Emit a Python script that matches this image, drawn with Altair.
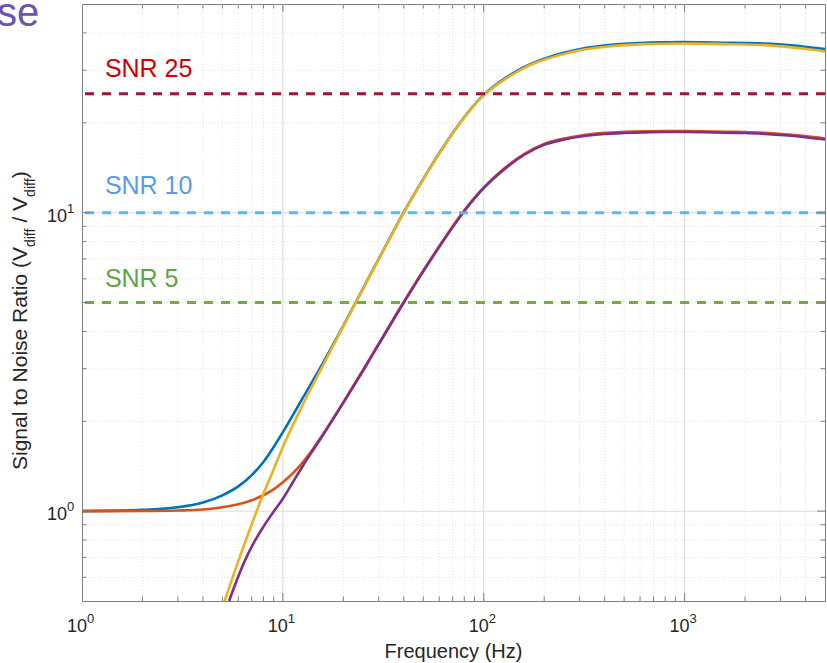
import altair as alt
import pandas as pd

W, H = 743, 597
FONT = "Liberation Sans"
TXT = "#262626"
BOX = "#7f7f7f"

# ---------------- data ----------------
blue_f = [1, 1.5, 2, 2.5, 3, 4, 5, 6, 7, 8, 9, 10, 12.59, 15.85, 19.95, 25.12, 31.62, 39.81, 50.12,
          63.10, 79.43, 100, 125.9, 158.5, 199.5, 251.2, 316.2, 398.1, 501.2, 631, 794, 1000, 1259,
          1585, 1995, 2512, 3162, 3981, 5000]
blue_v = [1.000, 1.004, 1.01, 1.018, 1.03, 1.068, 1.13, 1.21, 1.32, 1.46, 1.64, 1.84, 2.40, 3.14,
          4.17, 5.59, 7.48, 9.98, 13.0, 16.65, 20.76, 24.8, 28.0, 30.7, 32.8, 34.35, 35.55, 36.3,
          36.8, 37.1, 37.2, 37.25, 37.2, 37.1, 37.0, 36.85, 36.5, 35.95, 35.3]

orange_f = [1, 2, 3, 4, 5, 6, 7, 7.94, 8.91, 10, 11.22, 12.59, 14.13, 15.85, 19.95, 25.12, 31.62,
            39.81, 50.12, 63.10, 79.43, 100, 125.9, 158.5, 199.5, 251.2, 316.2, 398.1, 501.2, 631,
            794, 1000, 1259, 1585, 1995, 2512, 3162, 3981, 5000]
orange_v = [1.000, 1.001, 1.005, 1.013, 1.03, 1.055, 1.088, 1.128, 1.178, 1.25, 1.34, 1.46, 1.615,
            1.81, 2.31, 2.98, 3.86, 5.0, 6.41, 8.12, 10.12, 12.16, 14.03, 15.72, 17.0, 17.72, 18.21,
            18.5, 18.64, 18.73, 18.77, 18.77, 18.74, 18.67, 18.63, 18.5, 18.31, 18.04, 17.72]

yellow_f = [5.13, 6.0, 7.0, 8.0, 9.0, 10, 12.59, 15.85, 19.95, 25.12, 31.62, 39.81, 50.12, 63.10,
            79.43, 100, 125.9, 158.5, 199.5, 251.2, 316.2, 398.1, 501.2, 631, 794, 1000, 1259, 1585,
            1995, 2512, 3162, 3981, 5000]
yellow_v = [0.50, 0.68, 0.904, 1.143, 1.38, 1.64, 2.28, 3.08, 4.15, 5.57, 7.46, 9.95, 12.97, 16.6,
            20.7, 24.7, 27.8, 30.5, 32.5, 34.0, 35.2, 35.9, 36.4, 36.7, 36.8, 36.85, 36.8, 36.7,
            36.6, 36.4, 36.0, 35.4, 34.7]

purple_f = [5.40, 6.03, 6.61, 7.24, 7.94, 8.91, 10, 11.22, 12.59, 14.13, 15.85, 19.95, 25.12, 31.62,
            39.81, 50.12, 63.10, 79.43, 100, 125.9, 158.5, 199.5, 251.2, 316.2, 398.1, 501.2, 631,
            794, 1000, 1259, 1585, 1995, 2512, 3162, 3981, 5000]
purple_v = [0.50, 0.610, 0.704, 0.793, 0.880, 0.987, 1.10, 1.25, 1.42, 1.60, 1.80, 2.30, 2.96, 3.84,
            4.97, 6.37, 8.07, 10.05, 12.08, 13.93, 15.6, 16.87, 17.58, 18.07, 18.35, 18.49, 18.58,
            18.62, 18.62, 18.59, 18.52, 18.48, 18.35, 18.16, 17.89, 17.57]

snr_levels = [25, 10, 5]
snr_colors = ["#a2142f", "#4dbeee", "#77ac30"]
snr_labels = ["SNR 25", "SNR 10", "SNR 5"]
snr_label_colors = ["#d00000", "#5b9bee", "#5ea444"]
snr_label_f = [1.3, 1.3, 1.3]
snr_label_v = [28.5, 11.55, 5.64]

x_major = [10, 100, 1000]
x_minor = [2, 3, 4, 5, 6, 7, 8, 9, 20, 30, 40, 50, 60, 70, 80, 90,
           200, 300, 400, 500, 600, 700, 800, 900, 2000, 3000, 4000]
y_major = [1, 10]
y_minor = [0.6, 0.7, 0.8, 0.9, 2, 3, 4, 5, 6, 7, 8, 9, 20, 30, 40]

x_tick_vals = [1, 10, 100, 1000]
x_tick_exp = ["0", "1", "2", "3"]
y_tick_vals = [1, 10]
y_tick_exp = ["0", "1"]

# ---------------- scales ----------------
xs = alt.Scale(type="log", domain=[1, 5000])
ys = alt.Scale(type="log", domain=[0.5, 50])
X = lambda: alt.X("f:Q", scale=xs, axis=None)
Y = lambda: alt.Y("v:Q", scale=ys, axis=None)

one = pd.DataFrame({"a": [0]})
layers = []

# grid
layers.append(alt.Chart(pd.DataFrame({"f": x_minor})).mark_rule(
    color="#e3e3e3", strokeDash=[1, 2], strokeWidth=1).encode(x=X()))
layers.append(alt.Chart(pd.DataFrame({"v": y_minor})).mark_rule(
    color="#e3e3e3", strokeDash=[1, 2], strokeWidth=1).encode(y=Y()))
layers.append(alt.Chart(pd.DataFrame({"f": x_major})).mark_rule(
    color="#dcdcdc", strokeWidth=1).encode(x=X()))
layers.append(alt.Chart(pd.DataFrame({"v": y_major})).mark_rule(
    color="#dcdcdc", strokeWidth=1).encode(y=Y()))


def series(f, v, color):
    df = pd.DataFrame({"f": f, "v": v})
    return alt.Chart(df).mark_line(color=color, strokeWidth=2.6, interpolate="monotone",
                                   clip=True).encode(x=X(), y=Y())


layers.append(series(blue_f, blue_v, "#0072bd"))
layers.append(series(orange_f, orange_v, "#d95319"))
layers.append(series(yellow_f, yellow_v, "#edb120"))
layers.append(series(purple_f, purple_v, "#7e2f8e"))

# SNR threshold lines
snr_df = pd.DataFrame({"v": snr_levels, "c": snr_colors})
layers.append(alt.Chart(snr_df).mark_rule(strokeDash=[9, 8], strokeWidth=3).encode(
    y=Y(), color=alt.Color("c:N", scale=None)))

lab_df = pd.DataFrame({"f": snr_label_f, "v": snr_label_v, "t": snr_labels, "c": snr_label_colors})
layers.append(alt.Chart(lab_df).mark_text(align="left", baseline="alphabetic", font=FONT,
                                          fontSize=25).encode(
    x=X(), y=Y(), text="t:N", color=alt.Color("c:N", scale=None)))

# inside ticks (box style)
MAJ, MIN = 8, 4.5
xmaj = pd.DataFrame({"f": x_major})
xmin = pd.DataFrame({"f": x_minor})
ymaj = pd.DataFrame({"v": y_major})
ymin = pd.DataFrame({"v": y_minor})
for df, ln in [(xmaj, MAJ), (xmin, MIN)]:
    layers.append(alt.Chart(df).mark_rule(color=BOX, strokeWidth=1).encode(
        x=X(), y=alt.value(H), y2=alt.value(H - ln)))
    layers.append(alt.Chart(df).mark_rule(color=BOX, strokeWidth=1).encode(
        x=X(), y=alt.value(0), y2=alt.value(ln)))
for df, ln in [(ymaj, MAJ), (ymin, MIN)]:
    layers.append(alt.Chart(df).mark_rule(color=BOX, strokeWidth=1).encode(
        y=Y(), x=alt.value(0), x2=alt.value(ln)))
    layers.append(alt.Chart(df).mark_rule(color=BOX, strokeWidth=1).encode(
        y=Y(), x=alt.value(W), x2=alt.value(W - ln)))

# tick labels
xt = pd.DataFrame({"f": x_tick_vals, "e": x_tick_exp, "b": ["10"] * len(x_tick_vals)})
layers.append(alt.Chart(xt).mark_text(align="right", baseline="alphabetic", font=FONT, fontSize=18,
                                      color=TXT, dx=5).encode(x=X(), y=alt.value(H + 31), text="b:N"))
layers.append(alt.Chart(xt).mark_text(align="left", baseline="alphabetic", font=FONT, fontSize=13,
                                      color=TXT, dx=5).encode(x=X(), y=alt.value(H + 22), text="e:N"))
yt = pd.DataFrame({"v": y_tick_vals, "e": y_tick_exp, "b": ["10"] * len(y_tick_vals)})
layers.append(alt.Chart(yt).mark_text(align="right", baseline="alphabetic", font=FONT, fontSize=18,
                                      color=TXT, dy=9).encode(y=Y(), x=alt.value(-15), text="b:N"))
layers.append(alt.Chart(yt).mark_text(align="left", baseline="alphabetic", font=FONT, fontSize=13,
                                      color=TXT, dy=0).encode(y=Y(), x=alt.value(-15), text="e:N"))

# axis titles
layers.append(alt.Chart(one).mark_text(text="Frequency (Hz)", align="center", baseline="alphabetic",
                                       font=FONT, fontSize=20, color=TXT).encode(
    x=alt.value(W / 2), y=alt.value(H + 57)))

ytitle_parts = [("Signal to Noise Ratio (V", 21, 0, 0), ("diff", 14, 222.9, 8),
                ("/ V", 21, 247.4, 0), ("diff", 14, 273.1, 8), (")", 21, 291.8, 0)]
for txt, fs, ddx, ddy in ytitle_parts:
    layers.append(alt.Chart(one).mark_text(text=txt, angle=270, align="left", baseline="alphabetic",
                                           font=FONT, fontSize=fs, color=TXT, dx=ddx, dy=ddy).encode(
        x=alt.value(-55), y=alt.value(466)))

# fragment of the slide title at the top left (cut off in the reference too)
layers.append(alt.Chart(one).mark_text(text="se", align="left", baseline="alphabetic", font=FONT,
                                       fontSize=40, color="#6b52b5").encode(
    x=alt.value(-85), y=alt.value(22)))

chart = alt.layer(*layers).properties(
    width=W, height=H,
    padding={"left": 82, "top": 4, "right": 2, "bottom": 62},
    autosize=alt.AutoSizeParams(type="none"),
    background="white",
).configure_view(stroke=BOX, strokeWidth=1)

chart.save("out.html", embed_options={"renderer": "svg", "actions": False})
